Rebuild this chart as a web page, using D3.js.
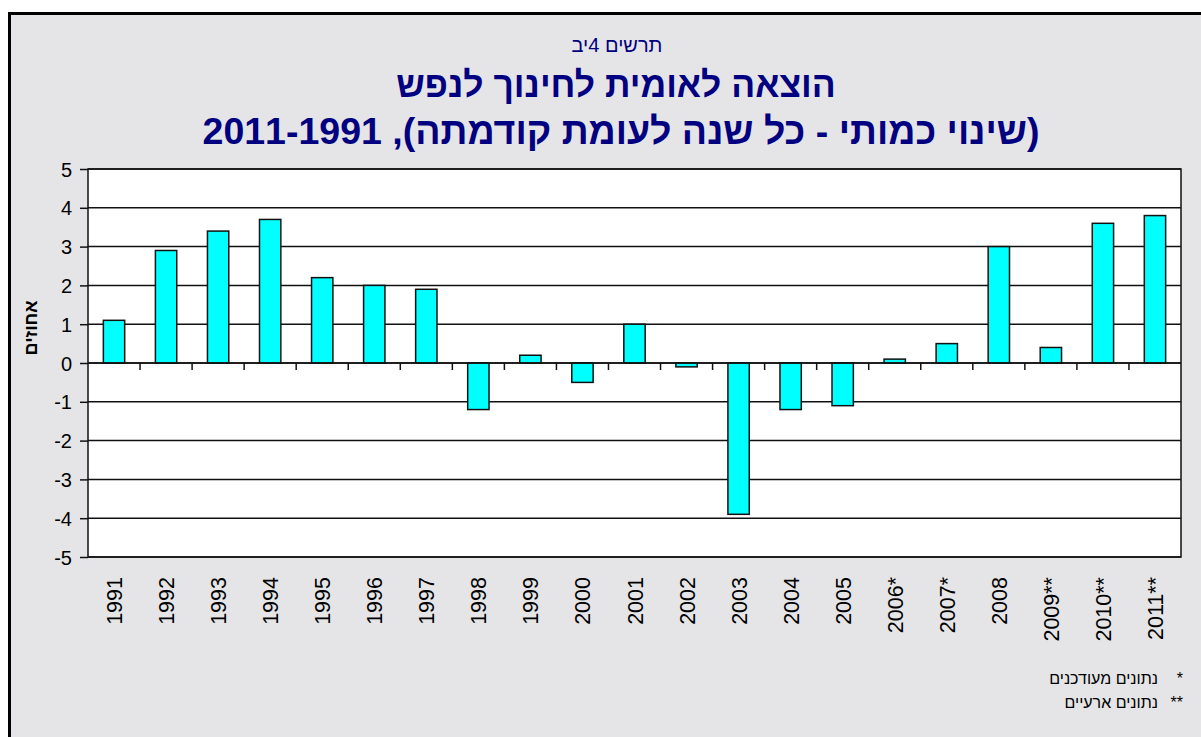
<!DOCTYPE html>
<html><head><meta charset="utf-8">
<script src="https://cdn.jsdelivr.net/npm/d3@7"></script>
<style>
html,body{margin:0;padding:0;background:#fff;}
svg{display:block;}
text{font-family:"Liberation Sans",Arial,sans-serif;}
</style></head>
<body>
<svg id="chart" width="1201" height="737"></svg>
<script>
const years = ["1991","1992","1993","1994","1995","1996","1997","1998","1999","2000","2001","2002","2003","2004","2005","2006*","2007*","2008","2009**","2010**","2011**"];
const values = [1.1,2.9,3.4,3.7,2.2,2.0,1.9,-1.2,0.2,-0.5,1.0,-0.1,-3.9,-1.2,-1.1,0.1,0.5,3.0,0.4,3.6,3.8];
const yTicks = [-5,-4,-3,-2,-1,0,1,2,3,4,5];
const subTitle = "תרשים 4יב";
const title1 = "הוצאה לאומית לחינוך לנפש";
const title2 = "(שינוי כמותי - כל שנה לעומת קודמתה), 2011-1991";
const yTitle = "אחוזים";
const notes = [["*", "נתונים מעודכנים"], ["**", "נתונים ארעיים"]];

const svg = d3.select("#chart");
const W = 1201, H = 737;
const plot = {left: 88, right: 1181, top: 169, bottom: 557};

// frame
svg.append("rect").attr("x", 9.5).attr("y", 13.5).attr("width", W + 20).attr("height", H + 20)
  .attr("fill", "#e5e5e7").attr("stroke", "#000").attr("stroke-width", 3);

// titles (rtl: text-anchor middle stays centred)
svg.append("text").attr("x", 617).attr("y", 52).attr("text-anchor", "middle")
  .attr("direction", "rtl").style("unicode-bidi", "embed")
  .attr("font-size", 20).attr("fill", "#000080").text(subTitle);
svg.append("text").attr("x", 616).attr("y", 97).attr("text-anchor", "middle")
  .attr("direction", "rtl").style("unicode-bidi", "embed")
  .attr("font-size", 35.5).attr("font-weight", "bold").attr("fill", "#000080").text(title1);
svg.append("text").attr("x", 621).attr("y", 144).attr("text-anchor", "middle")
  .attr("direction", "rtl").style("unicode-bidi", "embed")
  .attr("font-size", 37.5).attr("font-weight", "bold").attr("fill", "#000080").text(title2);

// scales
const x = d3.scaleBand().domain(years).range([plot.left, plot.right]).paddingInner(0).paddingOuter(0);
const y = d3.scaleLinear().domain([-5, 5]).range([plot.bottom, plot.top]);

// plot area
svg.append("rect").attr("x", plot.left).attr("y", plot.top)
  .attr("width", plot.right - plot.left).attr("height", plot.bottom - plot.top)
  .attr("fill", "#fff");

// gridlines
svg.append("g").selectAll("line").data(yTicks).join("line")
  .attr("x1", plot.left).attr("x2", plot.right)
  .attr("y1", d => y(d)).attr("y2", d => y(d))
  .attr("stroke", "#111").attr("stroke-width", 1.5);

// y axis
const yAxis = d3.axisLeft(y).tickValues(yTicks).tickSize(8).tickPadding(8).tickFormat(d => String(d));
const gy = svg.append("g").attr("transform", `translate(${plot.left},0)`).call(yAxis);
gy.select(".domain").remove();
gy.selectAll(".tick line").attr("stroke", "#111").attr("stroke-width", 1.5);
gy.selectAll(".tick text").attr("font-size", 20).attr("fill", "#000")
  .style("font-family", "'Liberation Sans', Arial, sans-serif").attr("dy", "0.35em");

// bars
const bw = x.bandwidth() * 0.41;
svg.append("g").selectAll("rect").data(years).join("rect")
  .attr("x", d => x(d) + (x.bandwidth() - bw) / 2)
  .attr("y", (d, i) => y(Math.max(0, values[i])))
  .attr("width", bw)
  .attr("height", (d, i) => Math.abs(y(values[i]) - y(0)))
  .attr("fill", "#00ffff").attr("stroke", "#111").attr("stroke-width", 1.5);

// zero line ticks (category boundaries)
const bounds = years.slice(1).map(d => x(d));
svg.append("g").selectAll("line").data(bounds).join("line")
  .attr("x1", d => d).attr("x2", d => d)
  .attr("y1", y(0)).attr("y2", y(0) + 7)
  .attr("stroke", "#111").attr("stroke-width", 1.5);
svg.append("line").attr("x1", plot.left).attr("x2", plot.right).attr("y1", y(0)).attr("y2", y(0))
  .attr("stroke", "#111").attr("stroke-width", 1.5);

// plot border
svg.append("rect").attr("x", plot.left).attr("y", plot.top)
  .attr("width", plot.right - plot.left).attr("height", plot.bottom - plot.top)
  .attr("fill", "none").attr("stroke", "#111").attr("stroke-width", 1.5);

// x labels
svg.append("g").selectAll("text").data(years).join("text")
  .attr("transform", d => `translate(${x(d) + x.bandwidth() / 2 + 8},577) rotate(-90)`)
  .attr("text-anchor", "end").attr("font-size", 21.5).attr("fill", "#000")
  .text(d => d);

// y title
svg.append("text").attr("transform", "translate(37,328) rotate(-90)")
  .attr("text-anchor", "middle").attr("direction", "rtl").style("unicode-bidi", "embed")
  .attr("font-size", 18).attr("font-weight", "bold").attr("fill", "#000").text(yTitle);

// footnotes (rtl: anchor "start" = right edge)
const ng = svg.append("g");
notes.forEach((n, i) => {
  ng.append("text").attr("x", 1183).attr("y", 684 + i * 24).attr("text-anchor", "end")
    .attr("font-size", 16).attr("fill", "#000").text(n[0]);
  ng.append("text").attr("x", 1158).attr("y", 684 + i * 24).attr("text-anchor", "start")
    .attr("direction", "rtl").style("unicode-bidi", "embed")
    .attr("font-size", 16).attr("fill", "#000").text(n[1]);
});
</script>
</body></html>
